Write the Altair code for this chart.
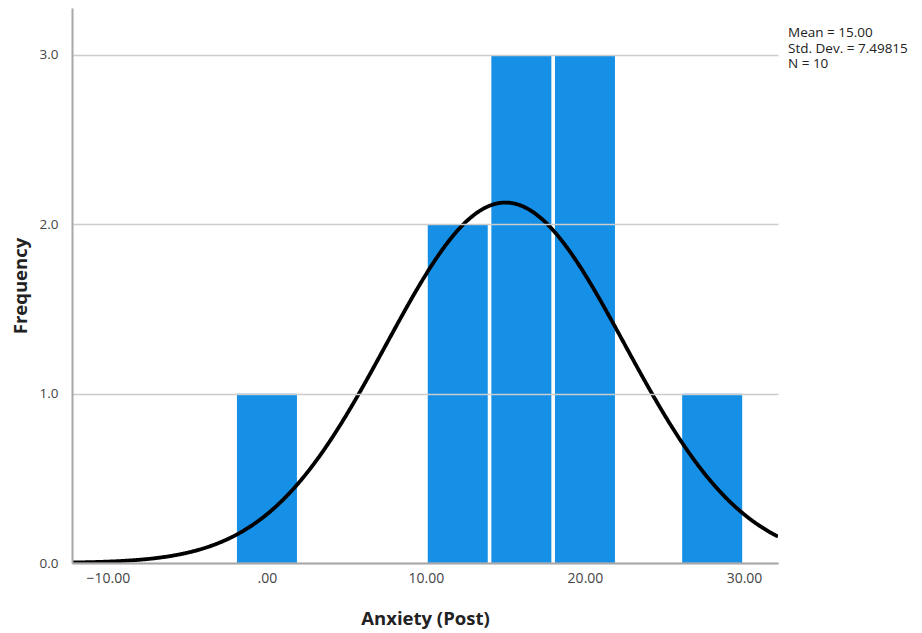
import altair as alt
import pandas as pd

# Histogram bins (Anxiety (Post)), bin width 4
bin_start = [-2, 10, 14, 18, 26]
bin_end = [2, 14, 18, 22, 30]
counts = [1, 2, 3, 3, 1]

# Summary statistics shown in the legend
mean_val = 15.00
sd_val = 7.49815
n_val = 10
bin_width = 4

x_ticks = [-10, 0, 10, 20, 30]
y_ticks = [0, 1, 2, 3]
x_domain = [-12.26, 32.14]
y_domain = [0, 3.277]

bars_df = pd.DataFrame({"start": bin_start, "end": bin_end, "count": counts})

FONT = "Open Sans"
BLUE = "#1590e6"

x_axis = alt.Axis(
    values=x_ticks, ticks=False, grid=False, zindex=1,
    labelExpr="datum.value == 0 ? '.00' : format(datum.value, '.2f')",
    labelFont=FONT, labelFontSize=14, labelColor="#444444", labelPadding=8,
    domainColor="#a8a8a8", domainWidth=2,
    title="Anxiety (Post)", titleFont=FONT, titleFontSize=18.5, titleFontWeight="bold",
    titleColor="#222222", titlePadding=24,
)
y_axis = alt.Axis(
    values=y_ticks, ticks=False, format=".1f", zindex=1,
    grid=True, gridColor="#cccccc", gridWidth=1.5,
    labelFont=FONT, labelFontSize=13.5, labelColor="#444444", labelPadding=14,
    domainColor="#a8a8a8", domainWidth=2,
    title="Frequency", titleFont=FONT, titleFontSize=18.5, titleFontWeight="bold",
    titleColor="#222222", titlePadding=9,
)

xs = alt.Scale(domain=x_domain, nice=False, zero=False)
ys = alt.Scale(domain=y_domain, nice=False)

bars = alt.Chart(bars_df).mark_rect(color=BLUE, xOffset=1.8, x2Offset=-1.8).encode(
    x=alt.X("start:Q", scale=xs, axis=x_axis),
    x2="end:Q",
    y=alt.Y("count:Q", scale=ys, axis=y_axis),
    y2=alt.datum(0),
)

curve = alt.Chart(alt.sequence(start=x_domain[0], stop=x_domain[1] + 0.05, step=0.05, as_="x")).transform_calculate(
    density=f"{n_val}*{bin_width}*exp(-0.5*pow((datum.x-{mean_val})/{sd_val},2))/({sd_val}*sqrt(2*PI))"
).mark_line(color="black", strokeWidth=3.8, clip=True).encode(
    x=alt.X("x:Q", scale=xs),
    y=alt.Y("density:Q", scale=ys),
)

legend_df = pd.DataFrame({"txt": [[
    f"Mean = {mean_val:.2f}",
    f"Std. Dev. = {sd_val:.5f}",
    f"N = {n_val}",
]]})
legend = alt.Chart(legend_df).mark_text(
    align="left", baseline="alphabetic", font=FONT, fontSize=13.5, color="#222222", lineHeight=15.5
).encode(
    x=alt.value(716), y=alt.value(29), text="txt"
)

chart = alt.layer(bars, curve, legend).properties(
    width=706, height=555,
    background="white",
    autosize=alt.AutoSizeParams(type="none"),
    padding={"left": 72, "top": 8, "right": 144, "bottom": 70},
).configure_view(stroke=None)

chart.save("out.html", embed_options={"renderer": "svg", "actions": False})
